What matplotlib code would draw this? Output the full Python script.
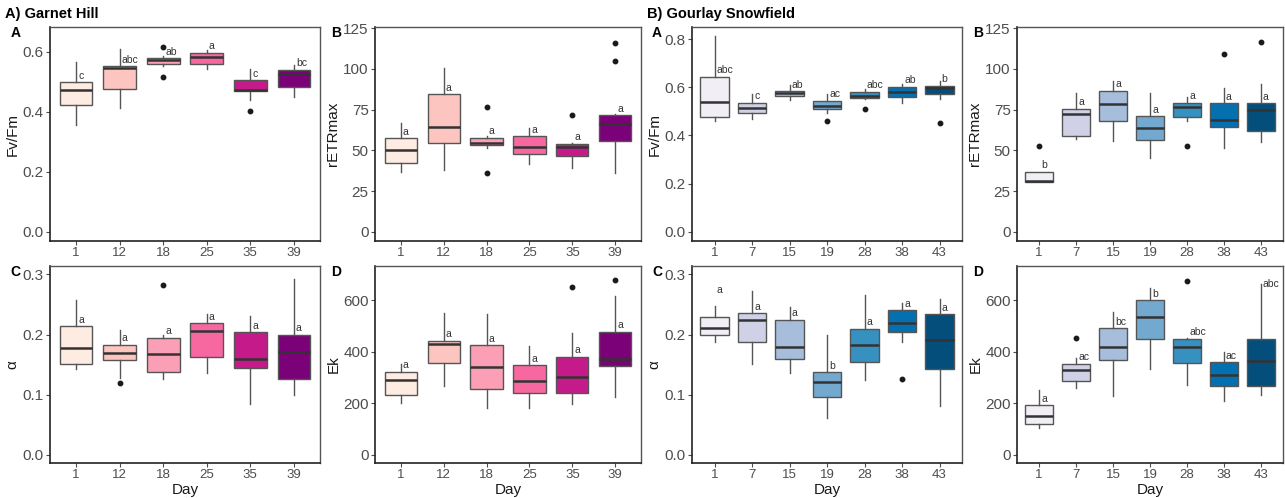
import matplotlib
matplotlib.use('Agg')
import matplotlib.pyplot as plt

plt.rcParams['font.family'] = ['Liberation Sans', 'DejaVu Sans']

# ---------------- categories & colours ----------------
gh_days = ['1', '12', '18', '25', '35', '39']
gs_days = ['1', '7', '15', '19', '28', '38', '43']
gh_colors = ['#feebe2', '#fcc5c0', '#fa9fb5', '#f768a1', '#c51b8a', '#7a0177']
gs_colors = ['#f1eef6', '#d0d1e6', '#a6bddb', '#74a9cf', '#3690c0', '#0570b0', '#034e7b']

# ---------------- Garnet Hill : Fv/Fm ----------------
gh_fv_lo = [0.356, 0.414, 0.553, 0.544, 0.439, 0.450]
gh_fv_q1 = [0.422, 0.477, 0.561, 0.561, 0.469, 0.483]
gh_fv_med = [0.472, 0.547, 0.574, 0.583, 0.474, 0.526]
gh_fv_q3 = [0.500, 0.553, 0.580, 0.597, 0.506, 0.541]
gh_fv_hi = [0.567, 0.611, 0.586, 0.606, 0.544, 0.556]
gh_fv_out = [[], [], [0.616, 0.517], [], [0.403], []]
gh_fv_let = ['c', 'abc', 'ab', 'a', 'c', 'bc']

# ---------------- Garnet Hill : rETRmax ----------------
gh_re_lo = [36.9, 37.9, 51.2, 41.6, 38.9, 35.9]
gh_re_q1 = [42.4, 54.7, 53.3, 48.0, 46.7, 55.9]
gh_re_med = [50.2, 64.1, 54.3, 52.3, 52.3, 66.0]
gh_re_q3 = [57.4, 84.6, 57.8, 58.8, 54.1, 71.5]
gh_re_hi = [66.6, 100.8, 59.0, 63.9, 54.7, 72.1]
gh_re_out = [[], [], [76.4, 36.1], [], [71.5], [116.2, 105.1]]
gh_re_let = ['a', 'a', 'a', 'a', 'a', 'a']

# ---------------- Garnet Hill : alpha ----------------
gh_al_lo = [0.143, 0.128, 0.126, 0.136, 0.085, 0.100]
gh_al_q1 = [0.151, 0.158, 0.138, 0.162, 0.145, 0.126]
gh_al_med = [0.178, 0.169, 0.167, 0.206, 0.159, 0.171]
gh_al_q3 = [0.214, 0.183, 0.195, 0.219, 0.204, 0.200]
gh_al_hi = [0.257, 0.208, 0.199, 0.234, 0.231, 0.292]
gh_al_out = [[], [0.120], [0.282], [], [], []]
gh_al_let = ['a', 'a', 'a', 'a', 'a', 'a']

# ---------------- Garnet Hill : Ek ----------------
gh_ek_lo = [200, 267, 181, 183, 197, 223]
gh_ek_q1 = [231, 357, 255, 239, 240, 345]
gh_ek_med = [290, 428, 339, 286, 303, 370]
gh_ek_q3 = [323, 443, 426, 348, 381, 477]
gh_ek_hi = [351, 551, 545, 423, 471, 617]
gh_ek_out = [[], [], [], [], [649], [677]]
gh_ek_let = ['a', 'a', 'a', 'a', 'a', 'a']

# ---------------- Gourlay Snowfield : Fv/Fm ----------------
gs_fv_lo = [0.462, 0.469, 0.548, 0.492, 0.550, 0.537, 0.550]
gs_fv_q1 = [0.478, 0.492, 0.564, 0.512, 0.556, 0.559, 0.573]
gs_fv_med = [0.538, 0.513, 0.575, 0.523, 0.562, 0.582, 0.596]
gs_fv_q3 = [0.645, 0.537, 0.585, 0.545, 0.582, 0.603, 0.607]
gs_fv_hi = [0.814, 0.571, 0.610, 0.571, 0.592, 0.613, 0.627]
gs_fv_out = [[], [], [], [0.460], [0.509], [], [0.451]]
gs_fv_let = ['abc', 'c', 'ab', 'ac', 'abc', 'ab', 'b']

# ---------------- Gourlay Snowfield : rETRmax ----------------
gs_re_lo = [30.7, 56.8, 55.7, 45.0, 68.0, 51.2, 55.3]
gs_re_q1 = [30.7, 59.0, 68.2, 56.1, 70.3, 64.1, 62.1]
gs_re_med = [31.1, 72.1, 78.5, 64.0, 76.8, 68.6, 74.8]
gs_re_q3 = [36.9, 75.6, 86.7, 71.1, 79.3, 78.9, 78.9]
gs_re_hi = [36.9, 85.0, 92.4, 85.0, 83.0, 88.1, 90.6]
gs_re_out = [[52.9], [], [], [], [52.9], [109.0], [116.4]]
gs_re_let = ['b', 'a', 'a', 'a', 'a', 'a', 'a']

# ---------------- Gourlay Snowfield : alpha ----------------
gs_al_lo = [0.187, 0.152, 0.136, 0.062, 0.125, 0.188, 0.082]
gs_al_q1 = [0.199, 0.187, 0.159, 0.096, 0.155, 0.205, 0.143]
gs_al_med = [0.211, 0.225, 0.179, 0.121, 0.183, 0.220, 0.191]
gs_al_q3 = [0.230, 0.236, 0.225, 0.138, 0.210, 0.241, 0.234]
gs_al_hi = [0.248, 0.273, 0.246, 0.199, 0.265, 0.253, 0.259]
gs_al_out = [[], [], [], [], [], [0.127], []]
gs_al_let = ['a', 'a', 'a', 'b', 'a', 'a', 'a']
gs_al_lety = [0.263, None, None, None, None, None, None]

# ---------------- Gourlay Snowfield : Ek ----------------
gs_ek_lo = [103, 260, 227, 333, 272, 208, 234]
gs_ek_q1 = [121, 288, 366, 448, 356, 267, 267]
gs_ek_med = [150, 330, 418, 536, 420, 311, 365]
gs_ek_q3 = [193, 353, 491, 600, 450, 360, 448]
gs_ek_hi = [253, 375, 555, 648, 455, 397, 664]
gs_ek_out = [[], [452], [], [], [673], [], []]
gs_ek_let = ['a', 'ac', 'bc', 'b', 'abc', 'ac', 'abc']
gs_ek_lety = [None, None, None, None, None, None, 637]

W, H = 1285, 498
fig = plt.figure(figsize=(W / 100, H / 100), dpi=100)


def make_ax(x0, x1, y0, y1):
    return fig.add_axes([x0 / W, 1 - y1 / H, (x1 - x0) / W, (y1 - y0) / H])


def panel(ax, days, colors, lo, q1, med, q3, hi, out, letters, ylim, yticks,
          yfmt, ylabel, xlabel=None, lety=None):
    stats = []
    for i in range(len(days)):
        stats.append(dict(whislo=lo[i], q1=q1[i], med=med[i], q3=q3[i],
                          whishi=hi[i], fliers=out[i], label=days[i]))
    pos = list(range(1, len(days) + 1))
    bp = ax.bxp(stats, positions=pos, widths=0.75, patch_artist=True,
                showcaps=False,
                boxprops=dict(edgecolor='#555555', linewidth=1.0),
                whiskerprops=dict(color='#555555', linewidth=1.0),
                medianprops=dict(color='#333333', linewidth=1.8),
                flierprops=dict(marker='o', markerfacecolor='#1a1a1a',
                                markeredgecolor='#1a1a1a', markersize=3.2))
    for patch, c in zip(bp['boxes'], colors):
        patch.set_facecolor(c)
    for i, let in enumerate(letters):
        if lety is not None and lety[i] is not None:
            y = lety[i]
        else:
            y = q3[i]
        ax.annotate(let, xy=(pos[i], y), xytext=(1.5, 1.0),
                    textcoords='offset points', ha='left', va='bottom',
                    fontsize=7.5, color='#333333')
    ax.set_xlim(0.4, len(days) + 0.6)
    ax.set_ylim(*ylim)
    ax.set_yticks(yticks)
    ax.set_yticklabels([yfmt.format(v) for v in yticks])
    ax.set_xticks(pos)
    ax.set_xticklabels(days)
    ax.tick_params(axis='y', labelsize=11, colors='#4d4d4d', length=3,
                   width=0.8, pad=1.5)
    ax.tick_params(axis='x', labelsize=9.5, colors='#4d4d4d', length=3,
                   width=0.8, pad=1.5)
    for s in ['top', 'right']:
        ax.spines[s].set_color('#555555')
        ax.spines[s].set_linewidth(1.0)
    for s in ['left', 'bottom']:
        ax.spines[s].set_color('#222222')
        ax.spines[s].set_linewidth(1.2)
    ax.set_ylabel(ylabel, fontsize=11, labelpad=2, color='#1a1a1a')
    if xlabel:
        ax.set_xlabel(xlabel, fontsize=11, labelpad=1, color='#1a1a1a')


top = (27, 241)
bot = (266, 463)
cols = [(50, 320), (375, 641), (692, 962), (1017, 1283)]

a1 = make_ax(cols[0][0], cols[0][1], *top)
panel(a1, gh_days, gh_colors, gh_fv_lo, gh_fv_q1, gh_fv_med, gh_fv_q3, gh_fv_hi,
      gh_fv_out, gh_fv_let, (-0.03, 0.683), [0, 0.2, 0.4, 0.6], '{:.1f}', 'Fv/Fm')

a2 = make_ax(cols[1][0], cols[1][1], *top)
panel(a2, gh_days, gh_colors, gh_re_lo, gh_re_q1, gh_re_med, gh_re_q3, gh_re_hi,
      gh_re_out, gh_re_let, (-5.7, 125.8), [0, 25, 50, 75, 100, 125], '{:.0f}', 'rETRmax')

a3 = make_ax(cols[2][0], cols[2][1], *top)
panel(a3, gs_days, gs_colors, gs_fv_lo, gs_fv_q1, gs_fv_med, gs_fv_q3, gs_fv_hi,
      gs_fv_out, gs_fv_let, (-0.039, 0.851), [0, 0.2, 0.4, 0.6, 0.8], '{:.1f}', 'Fv/Fm')

a4 = make_ax(cols[3][0], cols[3][1], *top)
panel(a4, gs_days, gs_colors, gs_re_lo, gs_re_q1, gs_re_med, gs_re_q3, gs_re_hi,
      gs_re_out, gs_re_let, (-5.7, 125.8), [0, 25, 50, 75, 100, 125], '{:.0f}', 'rETRmax')

a5 = make_ax(cols[0][0], cols[0][1], *bot)
panel(a5, gh_days, gh_colors, gh_al_lo, gh_al_q1, gh_al_med, gh_al_q3, gh_al_hi,
      gh_al_out, gh_al_let, (-0.0133, 0.314), [0, 0.1, 0.2, 0.3], '{:.1f}', 'α', 'Day')

a6 = make_ax(cols[1][0], cols[1][1], *bot)
panel(a6, gh_days, gh_colors, gh_ek_lo, gh_ek_q1, gh_ek_med, gh_ek_q3, gh_ek_hi,
      gh_ek_out, gh_ek_let, (-31, 732), [0, 200, 400, 600], '{:.0f}', 'Ek', 'Day')

a7 = make_ax(cols[2][0], cols[2][1], *bot)
panel(a7, gs_days, gs_colors, gs_al_lo, gs_al_q1, gs_al_med, gs_al_q3, gs_al_hi,
      gs_al_out, gs_al_let, (-0.0133, 0.314), [0, 0.1, 0.2, 0.3], '{:.1f}', 'α', 'Day',
      lety=gs_al_lety)

a8 = make_ax(cols[3][0], cols[3][1], *bot)
panel(a8, gs_days, gs_colors, gs_ek_lo, gs_ek_q1, gs_ek_med, gs_ek_q3, gs_ek_hi,
      gs_ek_out, gs_ek_let, (-31, 732), [0, 200, 400, 600], '{:.0f}', 'Ek', 'Day',
      lety=gs_ek_lety)

# group titles
fig.text(5 / W, 1 - 14 / H, 'A) Garnet Hill', fontsize=10.5, fontweight='bold',
         ha='left', va='center')
fig.text(647 / W, 1 - 14 / H, 'B) Gourlay Snowfield', fontsize=10.5,
         fontweight='bold', ha='left', va='center')

# panel letters
for (lx, ly, t) in [(11, 33, 'A'), (331, 33, 'B'), (652, 33, 'A'), (973, 33, 'B'),
                    (10, 272, 'C'), (331, 272, 'D'), (652, 272, 'C'), (973, 272, 'D')]:
    fig.text(lx / W, 1 - ly / H, t, fontsize=10, fontweight='bold',
             ha='left', va='center')

fig.savefig('out.png', dpi=100)
